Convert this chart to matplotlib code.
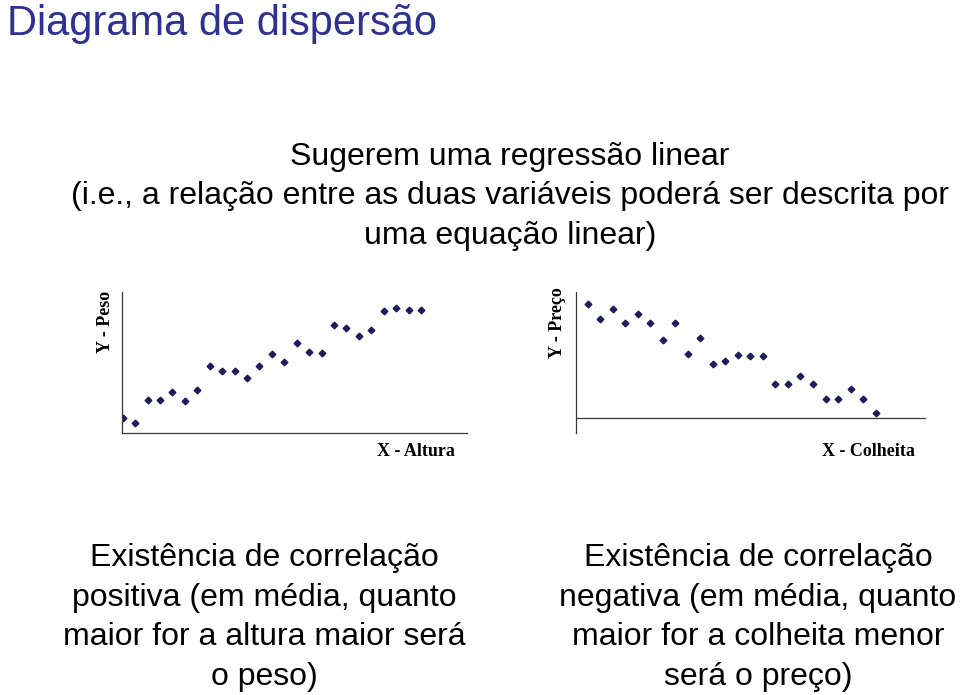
import matplotlib.pyplot as plt
import numpy as np

# dados (escala 0-100 no eixo Y)
altura = np.arange(1, 26)
peso = [10.6, 6.6, 23.4, 23.4, 28.8, 22.2, 30.7, 47.3, 43.7, 44.0, 38.8, 47.3, 55.8,
        49.9, 64.1, 57.7, 56.5, 76.4, 74.5, 69.0, 73.3, 86.3, 88.7, 87.5, 87.5]

colheita = np.arange(1, 25)
preco = [90.2, 78.3, 86.0, 74.9, 82.5, 75.1, 61.4, 75.4, 50.3, 63.5, 42.9, 45.0,
         49.5, 48.9, 48.9, 26.5, 26.5, 33.3, 26.5, 14.8, 14.8, 22.8, 14.8, 3.7]

titulo = 'Diagrama de dispersão'
intro = ['Sugerem uma regressão linear',
         '(i.e., a relação entre as duas variáveis poderá ser descrita por',
         'uma equação linear)']
texto_esq = ['Existência de correlação', 'positiva (em média, quanto',
             'maior for a altura maior será', 'o peso)']
texto_dir = ['Existência de correlação', 'negativa (em média, quanto',
             'maior for a colheita menor', 'será o preço)']

W, H = 960, 695
fig = plt.figure(figsize=(W / 100, H / 100), dpi=100, facecolor='w')
plt.rcParams['font.family'] = ['Liberation Sans', 'DejaVu Sans']


def box(x0, y0, x1, y1):
    # pixels (origem no topo-esquerda) -> fração da figura
    return [x0 / W, 1 - y1 / H, (x1 - x0) / W, (y1 - y0) / H]


mk = dict(marker='D', ms=3.4, color='#1c1c5c', ls='none')
axcol = '#3a3a3a'

# gráfico da esquerda
ax1 = fig.add_axes(box(121.7, 292, 466.7, 432.7))
ax1.plot(altura, peso, **mk)
ax1.set_xlim(0.92, 28.67)
ax1.set_ylim(0, 100)

# gráfico da direita
ax2 = fig.add_axes(box(575.7, 291.7, 925, 432.7))
ax2.plot(colheita, preco, **mk)
ax2.set_xlim(0.04, 27.95)
ax2.set_ylim(-11.9, 100)
ax2.spines['bottom'].set_position(('data', 0))

for ax in (ax1, ax2):
    ax.set_xticks([])
    ax.set_yticks([])
    for s in ('top', 'right'):
        ax.spines[s].set_visible(False)
    for s in ('left', 'bottom'):
        ax.spines[s].set_color(axcol)
        ax.spines[s].set_linewidth(0.9)
    ax.patch.set_alpha(0)

serif = dict(family='Liberation Serif', fontweight='bold', fontsize=13)
fig.text(106 / W, 1 - 322 / H, 'Y - Peso', rotation=90, ha='center', va='center', **serif)
fig.text(416 / W, 1 - 452 / H, 'X - Altura', ha='center', va='center', **serif)
fig.text(558 / W, 1 - 323 / H, 'Y - Preço', rotation=90, ha='center', va='center', **serif)
fig.text(868 / W, 1 - 452 / H, 'X - Colheita', ha='center', va='center', **serif)

fig.text(7 / W, 1 - 35 / H, titulo, ha='left', va='baseline', fontsize=30, color='#2e3192')

for y, s in zip([165, 204, 244], intro):
    fig.text(510 / W, 1 - y / H, s, ha='center', va='baseline', fontsize=23, color='black')

for k, y in enumerate([566, 606, 645, 685]):
    fig.text(264 / W, 1 - y / H, texto_esq[k], ha='center', va='baseline', fontsize=23)
    fig.text(758 / W, 1 - y / H, texto_dir[k], ha='center', va='baseline', fontsize=23)

fig.savefig('out.png', dpi=100, facecolor='w')
